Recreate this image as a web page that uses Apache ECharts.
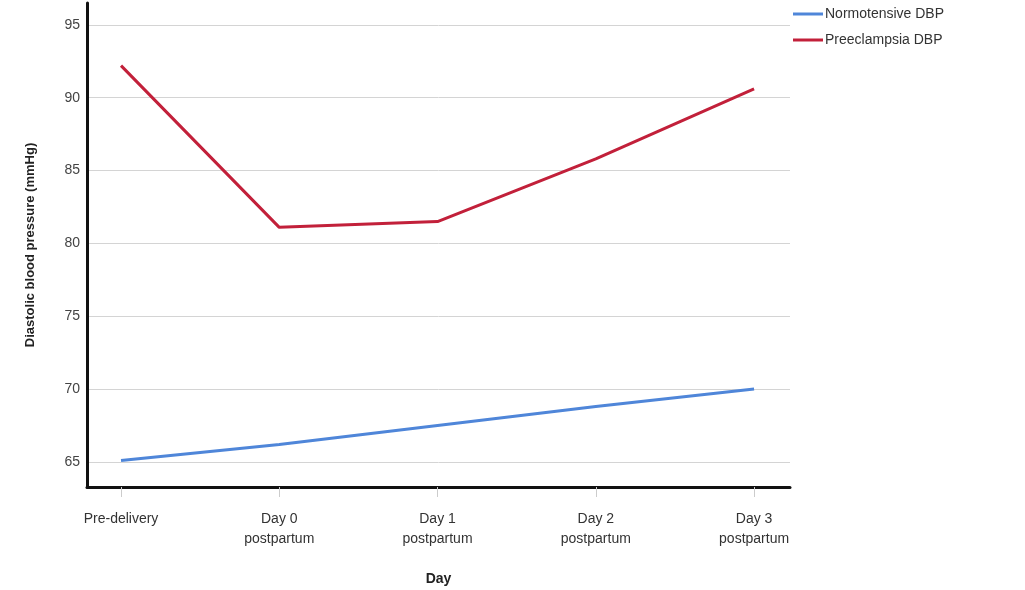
<!DOCTYPE html>
<html>
<head>
<meta charset="utf-8">
<script src="https://cdn.jsdelivr.net/npm/echarts@6/dist/echarts.min.js"></script>
<style>html,body{margin:0;padding:0;background:#fff}#c{width:1025px;height:590px}</style>
</head>
<body>
<div id="c"></div>
<script>
const categories = ['Pre-delivery', 'Day 0\npostpartum', 'Day 1\npostpartum', 'Day 2\npostpartum', 'Day 3\npostpartum'];
const normotensive = [65.1, 66.2, 67.5, 68.8, 70.0];
const preeclampsia = [92.2, 81.1, 81.5, 85.8, 90.6];
const yTicks = [65, 70, 75, 80, 85, 90, 95];

const chart = echarts.init(document.getElementById('c'));
const idx = categories.map((_, i) => i);
chart.setOption({
  animation: false,
  textStyle: { fontFamily: 'Liberation Sans, Arial, sans-serif' },
  grid: { left: 87, top: 3, right: 235, bottom: 103, containLabel: false, outerBoundsMode: 'none' },
  legend: {
    orient: 'vertical', left: 793, top: 7, padding: 0,
    icon: 'rect', itemWidth: 30, itemHeight: 3, itemGap: 12,
    textStyle: { fontSize: 14, color: '#333', padding: [0, 0, 0, -3] },
    data: ['Normotensive DBP', 'Preeclampsia DBP']
  },
  xAxis: {
    type: 'value', min: -0.215, max: 4.227,
    name: 'Day', nameLocation: 'middle', nameGap: 85,
    nameTextStyle: { fontSize: 14, fontWeight: 'bold', color: '#222' },
    axisLine: { show: true, onZero: false, lineStyle: { color: '#111', width: 3 } },
    axisTick: { show: true, customValues: idx, length: 10, lineStyle: { color: '#ccc', width: 1 } },
    axisLabel: { customValues: idx, formatter: v => categories[Math.round(v)], fontSize: 14, color: '#333', margin: 22, lineHeight: 20 },
    splitLine: { show: false }
  },
  yAxis: {
    type: 'value', min: 63.28, max: 96.5,
    name: 'Diastolic blood pressure (mmHg)', nameLocation: 'middle', nameGap: 50,
    nameTextStyle: { fontSize: 13, fontWeight: 'bold', color: '#222' },
    axisLine: { show: true, onZero: false, lineStyle: { color: '#111', width: 3 } },
    axisTick: { show: false, customValues: yTicks },
    axisLabel: { customValues: yTicks, fontSize: 14, color: '#444', margin: 7 },
    splitLine: { show: true, lineStyle: { color: '#d4d4d4', width: 1 } }
  },
  series: [
    { name: 'Normotensive DBP', type: 'line', data: normotensive.map((v, i) => [i, v]),
      showSymbol: false, symbol: 'none', lineStyle: { color: '#4f86d9', width: 3 }, itemStyle: { color: '#4f86d9' } },
    { name: 'Preeclampsia DBP', type: 'line', data: preeclampsia.map((v, i) => [i, v]),
      showSymbol: false, symbol: 'none', lineStyle: { color: '#c2203a', width: 3 }, itemStyle: { color: '#c2203a' } }
  ]
});
</script>
</body>
</html>
